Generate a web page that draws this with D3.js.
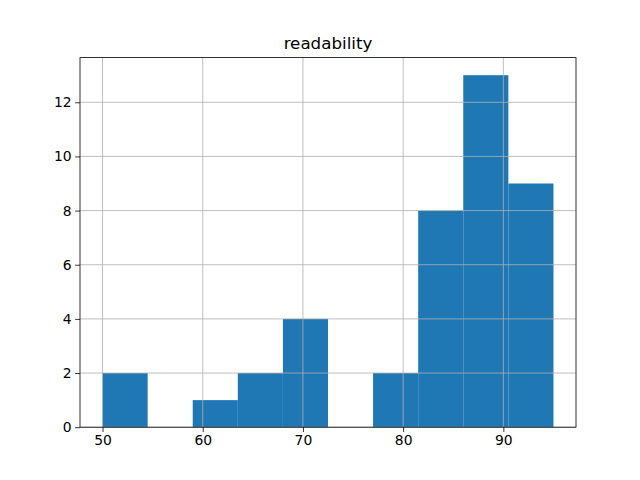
<!DOCTYPE html>
<html><head><meta charset="utf-8">
<script src="https://cdn.jsdelivr.net/npm/d3@7"></script>
<style>body{margin:0;background:#fff}svg{display:block}text{font-family:"DejaVu Sans",sans-serif}</style>
</head><body>
<svg id="c" width="640" height="480"></svg>
<script>
const title = "readability";
const binEdges = [50, 54.5, 59, 63.5, 68, 72.5, 77, 81.5, 86, 90.5, 95];
const counts = [2, 0, 1, 2, 4, 0, 2, 8, 13, 9];
const xTicks = [50, 60, 70, 80, 90];
const yTicks = [0, 2, 4, 6, 8, 10, 12];

const svg = d3.select("#c");
const L = 80, R = 576, T = 57.6, B = 427.2;
const span = binEdges[binEdges.length-1] - binEdges[0];
const x = d3.scaleLinear().domain([binEdges[0] - 0.05*span, binEdges[binEdges.length-1] + 0.05*span]).range([L, R]);
const ymax = d3.max(counts);
const y = d3.scaleLinear().domain([0, ymax*1.05]).range([B, T]);

const bins = counts.map((c,i)=>({x0:binEdges[i], x1:binEdges[i+1], c}));
svg.append("g").selectAll("rect").data(bins).join("rect")
  .attr("x", d=>x(d.x0)).attr("width", d=>x(d.x1)-x(d.x0))
  .attr("y", d=>y(d.c)).attr("height", d=>y(0)-y(d.c))
  .attr("fill", "#1f77b4");

// grid
const g = svg.append("g").attr("stroke", "#b0b0b0").attr("stroke-width", 0.8);
xTicks.forEach(t=>g.append("line").attr("x1", x(t)).attr("x2", x(t)).attr("y1", T).attr("y2", B));
yTicks.forEach(t=>g.append("line").attr("x1", L).attr("x2", R).attr("y1", y(t)).attr("y2", y(t)));

// axes
const xa = d3.axisBottom(x).tickValues(xTicks).tickSize(4.86).tickPadding(3.5).tickFormat(d3.format("d"));
const ya = d3.axisLeft(y).tickValues(yTicks).tickSize(4.86).tickPadding(3.5).tickFormat(d3.format("d"));
const gx = svg.append("g").attr("transform", `translate(0,${B})`).call(xa);
const gy = svg.append("g").attr("transform", `translate(${L},0)`).call(ya);
[gx, gy].forEach(a=>{
  a.select(".domain").remove();
  a.selectAll(".tick line").attr("stroke", "#000").attr("stroke-width", 0.8);
  a.selectAll(".tick text").attr("font-size", "13.9px").attr("fill", "#000").attr("font-family", "DejaVu Sans");
});

// spines
svg.append("rect").attr("x", L).attr("y", T).attr("width", R-L).attr("height", B-T)
  .attr("fill", "none").attr("stroke", "#000").attr("stroke-width", 0.8);

svg.append("text").attr("x", (L+R)/2).attr("y", T-8.3).attr("text-anchor", "middle")
  .attr("font-size", "16.7px").attr("fill", "#000").text(title);
</script>
</body></html>
